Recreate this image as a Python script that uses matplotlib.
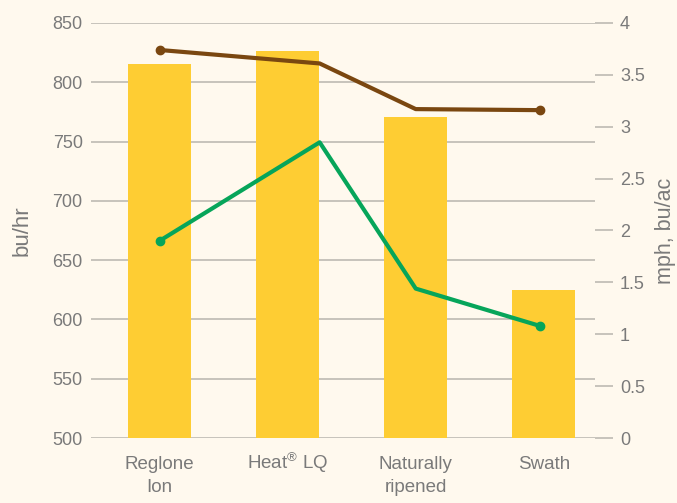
"""Harvest aid comparison: throughput bars with speed / yield lines."""

import matplotlib

matplotlib.use("Agg")

import matplotlib.pyplot as plt
from matplotlib.transforms import ScaledTranslation

BACKGROUND = "#FFF9EE"
BAR_YELLOW = "#FECD33"
BROWN = "#7A4710"
GREEN = "#06A55A"
GRID_GREY = "#BDBAB2"
TEXT_GREY = "#7A7A7A"

# data
categories = ["Reglone\nIon", "Heat$^{®}$ LQ", "Naturally\nripened", "Swath"]
throughput_bu_hr = [815, 826, 771, 625]
line_x = [0.0, 1.25, 2.0, 2.97]
brown_series = [3.74, 3.61, 3.17, 3.16]
green_series = [1.90, 2.85, 1.44, 1.08]
left_ticks = [500, 550, 600, 650, 700, 750, 800, 850]
right_ticks = [0, 0.5, 1, 1.5, 2, 2.5, 3, 3.5, 4]
right_tick_labels = ["0", "0.5", "1", "1.5", "2", "2.5", "3", "3.5", "4"]

plt.rcParams.update(
    {
        "font.family": ["Liberation Sans", "DejaVu Sans"],
        "font.size": 13,
        "mathtext.fontset": "custom",
        "mathtext.rm": "Liberation Sans",
        "mathtext.it": "Liberation Sans:italic",
        "mathtext.bf": "Liberation Sans:bold",
        "mathtext.default": "regular",
        "text.color": TEXT_GREY,
        "xtick.color": TEXT_GREY,
        "ytick.color": TEXT_GREY,
        "axes.labelcolor": TEXT_GREY,
    }
)

fig = plt.figure(figsize=(6.77, 5.03), dpi=100, facecolor=BACKGROUND)
ax = fig.add_axes([0.1344, 0.1292, 0.879 - 0.1344, 0.9543 - 0.1292])
ax.set_facecolor(BACKGROUND)

positions = list(range(len(categories)))
ax.bar(positions, throughput_bu_hr, width=0.49, color=BAR_YELLOW, zorder=2)
ax.set_ylim(500, 850)
ax.set_xlim(-0.535, 3.40)
ax.set_yticks(left_ticks)
ax.grid(axis="y", color=GRID_GREY, linewidth=1.2, zorder=0)
ax.set_axisbelow(True)
ax.tick_params(axis="y", length=0, pad=6, labelsize=13)
ax.set_xticks(positions)
ax.set_xticklabels(categories, linespacing=1.45, va="top")
ax.tick_params(axis="x", length=0, pad=13, labelsize=13.5)
# the superscript makes the mathtext box taller; lift it back in line
heat_label = ax.get_xticklabels()[1]
heat_label.set_transform(
    heat_label.get_transform() + ScaledTranslation(0, 3.5 / 72, fig.dpi_scale_trans)
)
ax.set_ylabel("bu/hr", fontsize=16, labelpad=14)
for spine in ax.spines.values():
    spine.set_visible(False)

ax2 = ax.twinx()
ax2.set_ylim(0, 4)
ax2.set_yticks(right_ticks)
ax2.set_yticklabels(right_tick_labels)
ax2.tick_params(
    axis="y", length=13, width=1.2, color=GRID_GREY, pad=5, labelsize=13
)
ax2.plot(
    line_x,
    brown_series,
    color=BROWN,
    linewidth=3,
    marker="o",
    markersize=6,
    markevery=[0, 3],
    solid_capstyle="round",
    zorder=4,
)
ax2.plot(
    line_x,
    green_series,
    color=GREEN,
    linewidth=3,
    marker="o",
    markersize=6,
    markevery=[0, 3],
    solid_capstyle="round",
    zorder=4,
)
ax2.set_ylabel("mph, bu/ac", fontsize=15.5, labelpad=7)
for spine in ax2.spines.values():
    spine.set_visible(False)

fig.savefig("out.png", dpi=100, facecolor=BACKGROUND)
